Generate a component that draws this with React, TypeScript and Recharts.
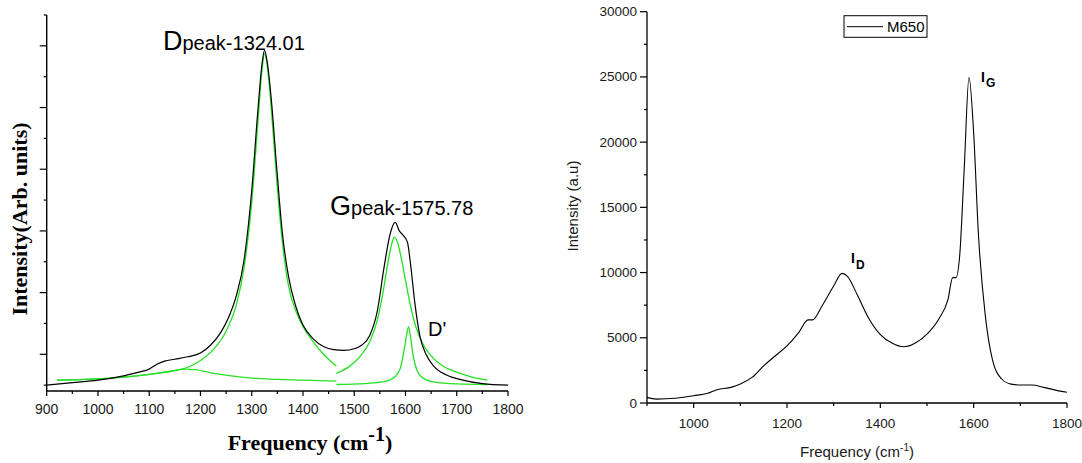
import React from 'react';
import { LineChart, Line, XAxis, YAxis } from 'recharts';

// ---- left panel: measured spectrum (black) ----
const specFreq = [900, 950, 1000, 1050, 1080, 1100, 1115, 1130, 1150, 1175, 1200, 1220, 1240, 1255, 1270, 1285, 1300, 1312, 1320, 1325, 1330, 1338, 1348, 1360, 1372, 1386, 1400, 1420, 1440, 1460, 1480, 1500, 1515, 1530, 1545, 1558, 1570, 1580, 1588, 1596, 1604, 1610, 1618, 1628, 1640, 1655, 1680, 1710, 1750, 1800];
const specIntensity = [0, 0.08, 0.16, 0.3, 0.42, 0.52, 0.68, 0.78, 0.84, 0.92, 1.04, 1.3, 1.72, 2.2, 2.9, 4.05, 6.3, 8.9, 10.4, 10.85, 10.5, 9.3, 7.2, 4.9, 3.5, 2.55, 1.95, 1.5, 1.25, 1.15, 1.13, 1.18, 1.3, 1.6, 2.4, 3.8, 4.9, 5.28, 5.0, 4.85, 4.62, 3.9, 2.7, 1.6, 1.0, 0.62, 0.33, 0.17, 0.05, 0];

// ---- left panel: fitted components (green) ----
const dFreq = [920, 1000, 1050, 1100, 1150, 1175, 1200, 1225, 1250, 1270, 1285, 1300, 1312, 1320, 1325, 1330, 1338, 1348, 1360, 1372, 1386, 1400, 1420, 1440, 1465];
const dFit = [0.16, 0.2, 0.26, 0.35, 0.47, 0.58, 0.8, 1.15, 1.75, 2.6, 3.8, 5.9, 8.5, 10.2, 10.75, 10.4, 9.0, 6.8, 4.6, 3.2, 2.4, 1.9, 1.4, 1.0, 0.62];

const bandFreq = [920, 1000, 1050, 1100, 1140, 1170, 1190, 1220, 1260, 1300, 1350, 1400, 1465];
const bandFit = [0.16, 0.2, 0.26, 0.35, 0.45, 0.52, 0.5, 0.4, 0.3, 0.23, 0.19, 0.16, 0.13];

const gFreq = [1465, 1490, 1510, 1530, 1545, 1555, 1565, 1572, 1578, 1585, 1592, 1600, 1610, 1620, 1635, 1650, 1670, 1700, 1730, 1760];
const gFit = [0.38, 0.6, 0.9, 1.4, 2.1, 2.9, 3.9, 4.5, 4.8, 4.6, 4.1, 3.4, 2.55, 1.9, 1.3, 0.95, 0.65, 0.42, 0.26, 0.16];

const dpFreq = [1465, 1520, 1560, 1580, 1590, 1597, 1602, 1606, 1610, 1615, 1622, 1635, 1660, 1700, 1760];
const dpFit = [0.02, 0.05, 0.12, 0.28, 0.55, 1.1, 1.6, 1.9, 1.55, 0.95, 0.5, 0.22, 0.09, 0.04, 0.02];

const leftXTicks = [900, 950, 1000, 1050, 1100, 1150, 1200, 1250, 1300, 1350, 1400, 1450, 1500, 1550, 1600, 1650, 1700, 1750, 1800];
const leftYTicks = [0, 1, 2, 3, 4, 5, 6, 7, 8, 9, 10, 11, 12];

// ---- right panel: M650 ----
const m650Freq = [900, 920, 960, 1000, 1030, 1050, 1080, 1100, 1125, 1150, 1175, 1200, 1225, 1245, 1255, 1275, 1300, 1318, 1330, 1350, 1375, 1400, 1425, 1450, 1475, 1500, 1525, 1545, 1555, 1562, 1570, 1580, 1590, 1600, 1610, 1625, 1640, 1660, 1680, 1700, 1725, 1750, 1775, 1800];
const m650Intensity = [430, 300, 360, 560, 740, 1020, 1200, 1450, 1960, 2850, 3620, 4380, 5400, 6370, 6370, 7440, 8970, 9940, 9690, 8340, 6500, 5250, 4600, 4310, 4600, 5280, 6420, 7950, 9610, 9610, 11270, 18150, 24980, 20700, 13050, 6680, 3360, 1840, 1450, 1380, 1380, 1200, 990, 820];

const rightXTicks = [900, 1000, 1100, 1200, 1300, 1400, 1500, 1600, 1700, 1800];
const rightYTicks = [0, 2500, 5000, 7500, 10000, 12500, 15000, 17500, 20000, 22500, 25000, 27500, 30000];

const pts = (xs: number[], ys: number[]) => xs.map((x, i) => ({ x, y: ys[i] }));

const SANS = '"Liberation Sans", Arial, sans-serif';
const SERIF = '"Liberation Serif", "Times New Roman", serif';
const GREEN = '#25e025';

function BottomTick(props: any) {
  const { x, y, payload, isMajor, showLabel, fontSize, gap } = props;
  const v = Number(payload.value);
  const major = isMajor(v);
  return (
    <g>
      <line x1={x} y1={y} x2={x} y2={y + (major ? 5 : 3)} stroke="#000" strokeWidth={1.2} />
      {showLabel(v) && (
        <text x={x} y={y + gap} textAnchor="middle" dominantBaseline="central" fontFamily={SANS} fontSize={fontSize} fill="#1a1a1a">
          {v}
        </text>
      )}
    </g>
  );
}

function LeftTick(props: any) {
  const { x, y, payload, isMajor, showLabel, fontSize, gap } = props;
  const v = Number(payload.value);
  const major = isMajor(v);
  return (
    <g>
      <line x1={x} y1={y} x2={x - (major ? 7 : 3)} y2={y} stroke="#000" strokeWidth={1.2} />
      {showLabel(v) && (
        <text x={x - gap} y={y} textAnchor="end" dominantBaseline="central" fontFamily={SANS} fontSize={fontSize} fill="#1a1a1a">
          {v}
        </text>
      )}
    </g>
  );
}

export default function App() {
  const spec = pts(specFreq, specIntensity);
  const dLine = pts(dFreq, dFit);
  const band = pts(bandFreq, bandFit);
  const gLine = pts(gFreq, gFit);
  const dpLine = pts(dpFreq, dpFit);
  const m650 = pts(m650Freq, m650Intensity);

  return (
    <div style={{ position: 'absolute', left: 0, top: 0, width: 1082, height: 463, background: '#fff', overflow: 'hidden' }}>
      <div style={{ position: 'absolute', left: 0, top: 0 }}>
        <LineChart width={540} height={463} margin={{ top: 15, right: 32, bottom: 0, left: 0 }}>
          <XAxis
            type="number"
            dataKey="x"
            domain={[900, 1800]}
            ticks={leftXTicks}
            interval={0}
            height={72}
            tickSize={0}
            tickMargin={0}
            axisLine={{ stroke: '#000', strokeWidth: 1.4 }}
            tickLine={false}
            tick={(p: any) => (
              <BottomTick {...p} isMajor={(v: number) => v % 100 === 0} showLabel={(v: number) => v % 100 === 0} fontSize={14} gap={18} />
            )}
          />
          <YAxis
            type="number"
            dataKey="y"
            domain={[-0.19, 12]}
            allowDataOverflow
            ticks={leftYTicks}
            interval={0}
            width={46.7}
            tickSize={0}
            tickMargin={0}
            axisLine={{ stroke: '#000', strokeWidth: 1.4 }}
            tickLine={false}
            tick={(p: any) => (
              <LeftTick {...p} isMajor={(v: number) => v % 2 === 1} showLabel={() => false} fontSize={13} gap={10} />
            )}
          />
          <Line data={band} dataKey="y" type="monotone" stroke={GREEN} strokeWidth={1.3} dot={false} isAnimationActive={false} />
          <Line data={dLine} dataKey="y" type="monotone" stroke={GREEN} strokeWidth={1.3} dot={false} isAnimationActive={false} />
          <Line data={gLine} dataKey="y" type="monotone" stroke={GREEN} strokeWidth={1.3} dot={false} isAnimationActive={false} />
          <Line data={dpLine} dataKey="y" type="monotone" stroke={GREEN} strokeWidth={1.3} dot={false} isAnimationActive={false} />
          <Line data={spec} dataKey="y" type="monotone" stroke="#000" strokeWidth={1.2} dot={false} isAnimationActive={false} />
        </LineChart>
      </div>

      <div style={{ position: 'absolute', left: 540, top: 0 }}>
        <LineChart width={542} height={463} margin={{ top: 11.7, right: 15, bottom: 0, left: 0 }}>
          <XAxis
            type="number"
            dataKey="x"
            domain={[900, 1800]}
            ticks={rightXTicks}
            interval={0}
            height={60}
            tickSize={0}
            tickMargin={0}
            axisLine={{ stroke: '#000', strokeWidth: 1.3 }}
            tickLine={false}
            tick={(p: any) => (
              <BottomTick {...p} isMajor={(v: number) => v % 200 === 0} showLabel={(v: number) => v % 200 === 0} fontSize={13.5} gap={20} />
            )}
          />
          <YAxis
            type="number"
            dataKey="y"
            domain={[0, 30000]}
            ticks={rightYTicks}
            interval={0}
            width={107}
            tickSize={0}
            tickMargin={0}
            axisLine={{ stroke: '#000', strokeWidth: 1.3 }}
            tickLine={false}
            tick={(p: any) => (
              <LeftTick {...p} isMajor={(v: number) => v % 5000 === 0} showLabel={(v: number) => v % 5000 === 0} fontSize={13.5} gap={10} />
            )}
          />
          <Line data={m650} dataKey="y" type="monotone" stroke="#000" strokeWidth={1.1} dot={false} isAnimationActive={false} />
        </LineChart>
      </div>

      <svg width={1082} height={463} style={{ position: 'absolute', left: 0, top: 0, pointerEvents: 'none' }}>
        {/* left panel labels */}
        <text x={163} y={50} fontFamily={SANS} fill="#000">
          <tspan fontSize={27}>D</tspan>
          <tspan fontSize={20}>peak-1324.01</tspan>
        </text>
        <text x={330} y={215} fontFamily={SANS} fill="#000">
          <tspan fontSize={27}>G</tspan>
          <tspan fontSize={20}>peak-1575.78</tspan>
        </text>
        <text x={428} y={336} fontFamily={SANS} fontSize={20} fill="#000">D'</text>
        <text x={310} y={450} textAnchor="middle" fontFamily={SERIF} fontWeight="bold" fontSize={22} fill="#000">
          Frequency (cm<tspan dy={-9} fontSize={20}>-1</tspan><tspan dy={9}>)</tspan>
        </text>
        <text transform="translate(27,219) rotate(-90)" textAnchor="middle" fontFamily={SERIF} fontWeight="bold" fontSize={22} fill="#000">
          Intensity(Arb. units)
        </text>

        {/* right panel labels */}
        <rect x={844} y={15.7} width={83} height={21.6} fill="#fff" stroke="#000" strokeWidth={1} />
        <line x1={847} y1={26.7} x2={883} y2={26.7} stroke="#000" strokeWidth={1} />
        <text x={887} y={32} fontFamily={SANS} fontSize={15} fill="#000">M650</text>
        <text x={981} y={82} fontFamily={SANS} fontWeight="bold" fontSize={14} fill="#000">I</text>
        <text x={986} y={87} fontFamily={SANS} fontWeight="bold" fontSize={12} fill="#000">G</text>
        <text x={851} y={263} fontFamily={SANS} fontWeight="bold" fontSize={14} fill="#000">I</text>
        <text x={856} y={269} fontFamily={SANS} fontWeight="bold" fontSize={12} fill="#000">D</text>
        <text x={857} y={457} textAnchor="middle" fontFamily={SANS} fontSize={15} fill="#1a1a1a">
          Frequency (cm<tspan dy={-6} fontSize={10}>-1</tspan><tspan dy={6}>)</tspan>
        </text>
        <text transform="translate(578,206) rotate(-90)" textAnchor="middle" fontFamily={SANS} fontSize={15} fill="#1a1a1a">
          Intensity (a.u)
        </text>
      </svg>
    </div>
  );
}
